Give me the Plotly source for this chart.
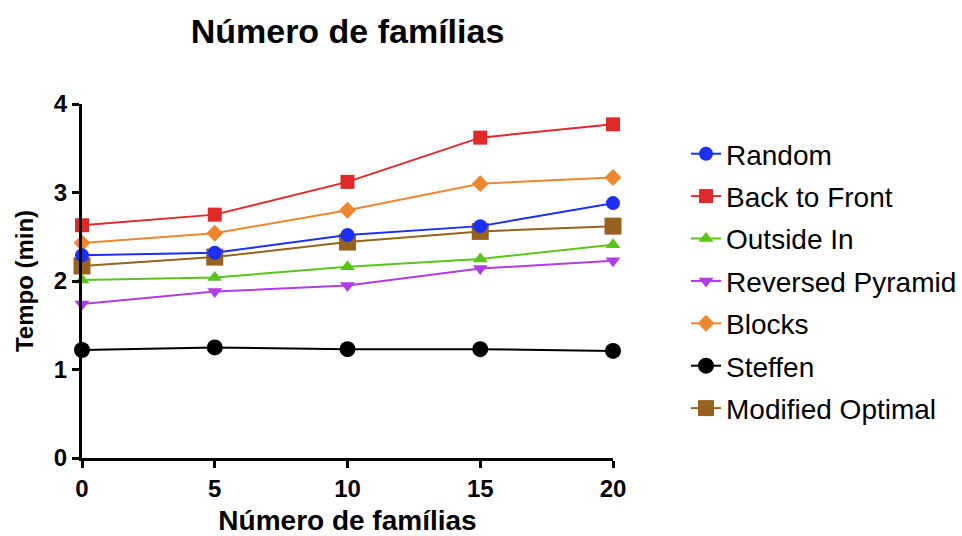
import plotly.graph_objects as go

# Number of families (x) and boarding time in minutes (y) per strategy
familias = [0, 5, 10, 15, 20]

random_t = [2.29, 2.32, 2.52, 2.62, 2.88]
back_to_front = [2.63, 2.75, 3.12, 3.62, 3.77]
outside_in = [2.01, 2.04, 2.16, 2.25, 2.41]
reversed_pyramid = [1.74, 1.88, 1.95, 2.14, 2.23]
blocks = [2.43, 2.54, 2.80, 3.10, 3.17]
steffen = [1.22, 1.25, 1.23, 1.23, 1.21]
modified_optimal = [2.17, 2.27, 2.44, 2.56, 2.62]

x_ticks = [0, 5, 10, 15, 20]
y_ticks = [0, 1, 2, 3, 4]

series = [
    ("Random", random_t, "#1b30f4", "circle", 14),
    ("Back to Front", back_to_front, "#e0292b", "square", 14),
    ("Outside In", outside_in, "#5ac41a", "triangle-up", 13),
    ("Reversed Pyramid", reversed_pyramid, "#b23be8", "triangle-down", 13),
    ("Blocks", blocks, "#ef8630", "diamond", 13),
    ("Steffen", steffen, "#000000", "circle", 16),
    ("Modified Optimal", modified_optimal, "#97621f", "square", 17),
]

FONT = "Liberation Sans, Arial, Helvetica, sans-serif"

fig = go.Figure()
# Added last-to-first so the first series is drawn on top; legendrank keeps the list order
for rank, (name, vals, color, symbol, size) in reversed(list(enumerate(series))):
    fig.add_trace(go.Scatter(
        x=familias, y=vals, name=name, mode="lines+markers",
        line=dict(color=color, width=2),
        marker=dict(color=color, symbol=symbol, size=size, line=dict(width=0)),
        cliponaxis=False,
        legendgroup=name,
        legendrank=rank + 1,
    ))

fig.update_layout(
    width=962, height=536,
    margin=dict(l=82, r=349, t=104, b=78),
    paper_bgcolor="white", plot_bgcolor="white",
    font=dict(family=FONT, color="black"),
    title=dict(text="<b>Número de famílias</b>", x=(82 + 613) / 2 / 962, xanchor="center",
               y=1 - 31 / 536, yanchor="middle", font=dict(size=34, family=FONT)),
    legend=dict(xref="container", yref="container",
                x=686 / 962, xanchor="left", y=1 - 129 / 536, yanchor="top",
                traceorder="grouped", tracegroupgap=3, maxheight=500,
                font=dict(size=28, family=FONT), itemwidth=30),
    showlegend=True,
)

fig.update_xaxes(
    range=[0, 20], tickvals=x_ticks, ticktext=["<b>%d</b>" % v for v in x_ticks],
    showgrid=False, zeroline=False, showline=True, linecolor="black", linewidth=3,
    ticks="outside", ticklen=7, tickwidth=3, tickcolor="black",
    tickfont=dict(size=24, family=FONT), automargin=False,
    title=dict(text="<b>Número de famílias</b>", font=dict(size=28, family=FONT), standoff=19),
)
fig.update_yaxes(
    range=[0, 4], tickvals=y_ticks, ticktext=["<b>%d</b>" % v for v in y_ticks],
    showgrid=False, zeroline=False, showline=True, linecolor="black", linewidth=3,
    ticks="outside", ticklen=7, tickwidth=3, tickcolor="black",
    tickfont=dict(size=24, family=FONT), automargin=False,
    title=dict(text="<b>Tempo (min)</b>", font=dict(size=24, family=FONT), standoff=14),
)

fig.write_html("out.html")
